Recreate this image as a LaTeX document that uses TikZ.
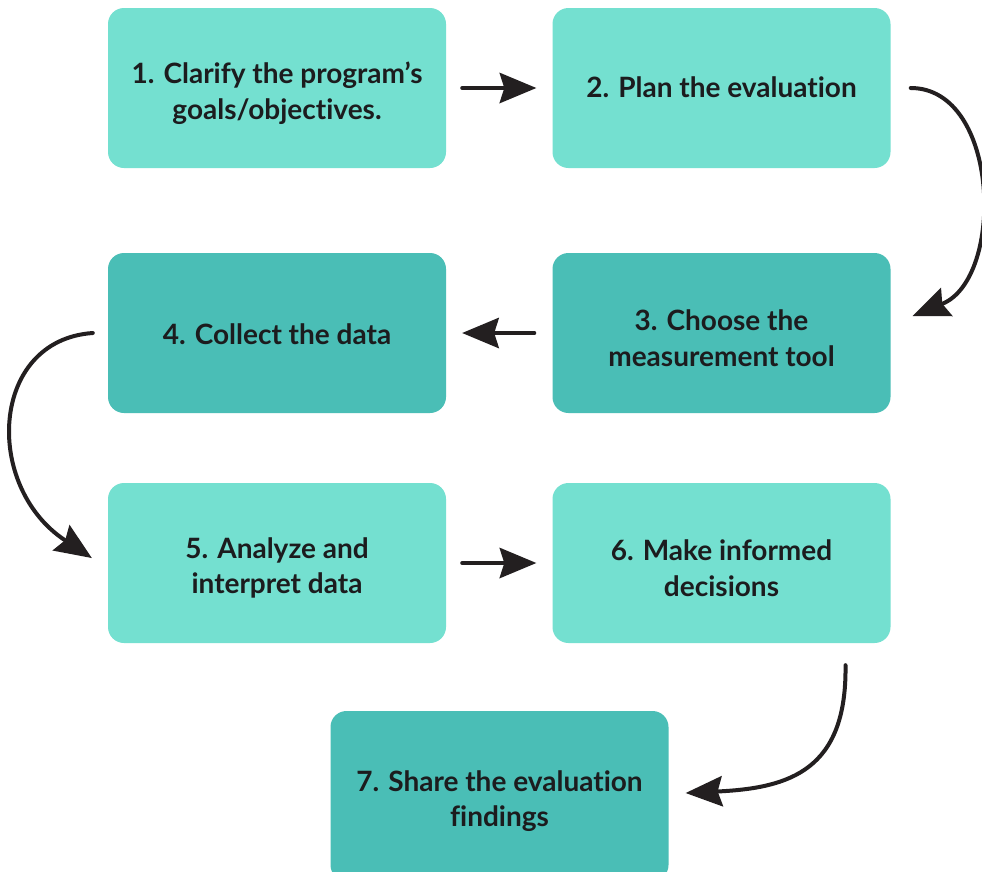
\documentclass[tikz,border=0pt]{standalone}
\usepackage{fontspec}
\setmainfont{Lato}[BoldFont={* Bold}, Ligatures=NoCommon]
\usetikzlibrary{arrows.meta,calc}
\definecolor{lightteal}{RGB}{116,224,208}
\definecolor{darkteal}{RGB}{74,190,182}
\definecolor{ink}{RGB}{35,31,32}
\definecolor{txt}{RGB}{28,28,30}
\tikzset{
  stepbox/.style={rectangle, rounded corners=16pt, minimum width=338pt, minimum height=160pt,
    inner sep=0pt},
  lightbox/.style={stepbox, fill=lightteal},
  darkbox/.style={stepbox, fill=darkteal},
  steptext/.style={inner sep=0pt, align=center, text=txt, font=\fontsize{28}{35.5}\selectfont\bfseries},
  flow/.style={draw=ink, line width=4pt, line cap=round,
    -{Stealth[length=37pt, width=31pt, inset=5pt, line width=0pt]}},
}
\begin{document}
\begin{tikzpicture}[x=1pt, y=-1pt]
\useasboundingbox (0,0) rectangle (982,871);
\fill[white] (0,0) rectangle (982,871);
\node[lightbox] (b1) at (277,88) {};
\node[lightbox] (b2) at (721.5,88) {};
\node[darkbox]  (b3) at (721.5,333) {};
\node[darkbox]  (b4) at (277,333) {};
\node[lightbox] (b5) at (277,563) {};
\node[lightbox] (b6) at (721.5,563) {};
\node[darkbox, minimum height=170pt] (b7) at (499.5,796) {};
\node[steptext] (t1) at ($(b1.center)+(0,5)$) {1. Clarify the program’s\\goals/objectives.};
\node[steptext] (t2) at ($(b2.center)+(0,-1)$) {2. Plan the evaluation};
\node[steptext] (t3) at ($(b3.center)+(0,5)$) {3. Choose the\\measurement tool};
\node[steptext] (t4) at ($(b4.center)+(0,1)$) {4. Collect the data};
\node[steptext] (t5) at ($(b5.center)+(0,5)$) {5. Analyze and\\interpret data};
\node[steptext] (t6) at ($(b6.center)+(0,5)$) {6. Make informed\\decisions};
\node[steptext] (t7) at ($(b7.center)+(0,5)$) {7. Share the evaluation\\findings};
% straight connectors
\draw[flow] ($(b1.east)+(16,0)$) -- ($(b2.west)+(-16,0)$);
\draw[flow] ($(b3.west)+(-18,0)$) -- ($(b4.east)+(16,0)$);
\draw[flow] ($(b5.east)+(16,0)$) -- ($(b6.west)+(-16,0)$);
% curved connectors
\coordinate (c2s) at ($(b2.east)+(20,0)$);
\coordinate (c2e) at ($(b3.east)+(22,-17)$);
\draw[flow] (c2s) .. controls (1000,88) and (1005,278) .. (c2e);
\coordinate (c4s) at ($(b4.west)+(-15,0)$);
\coordinate (c4e) at ($(b5.west)+(-16,-5)$);
\draw[flow] (c4s) .. controls (-10,340) and (-17,486) .. (c4e);
\coordinate (c6s) at ($(b6.south)+(124,22)$);
\coordinate (c6e) at ($(b7.east)+(17,-3)$);
\draw[flow] (c6s) .. controls (847,770) and (790,788) .. (c6e);
\end{tikzpicture}
\end{document}
